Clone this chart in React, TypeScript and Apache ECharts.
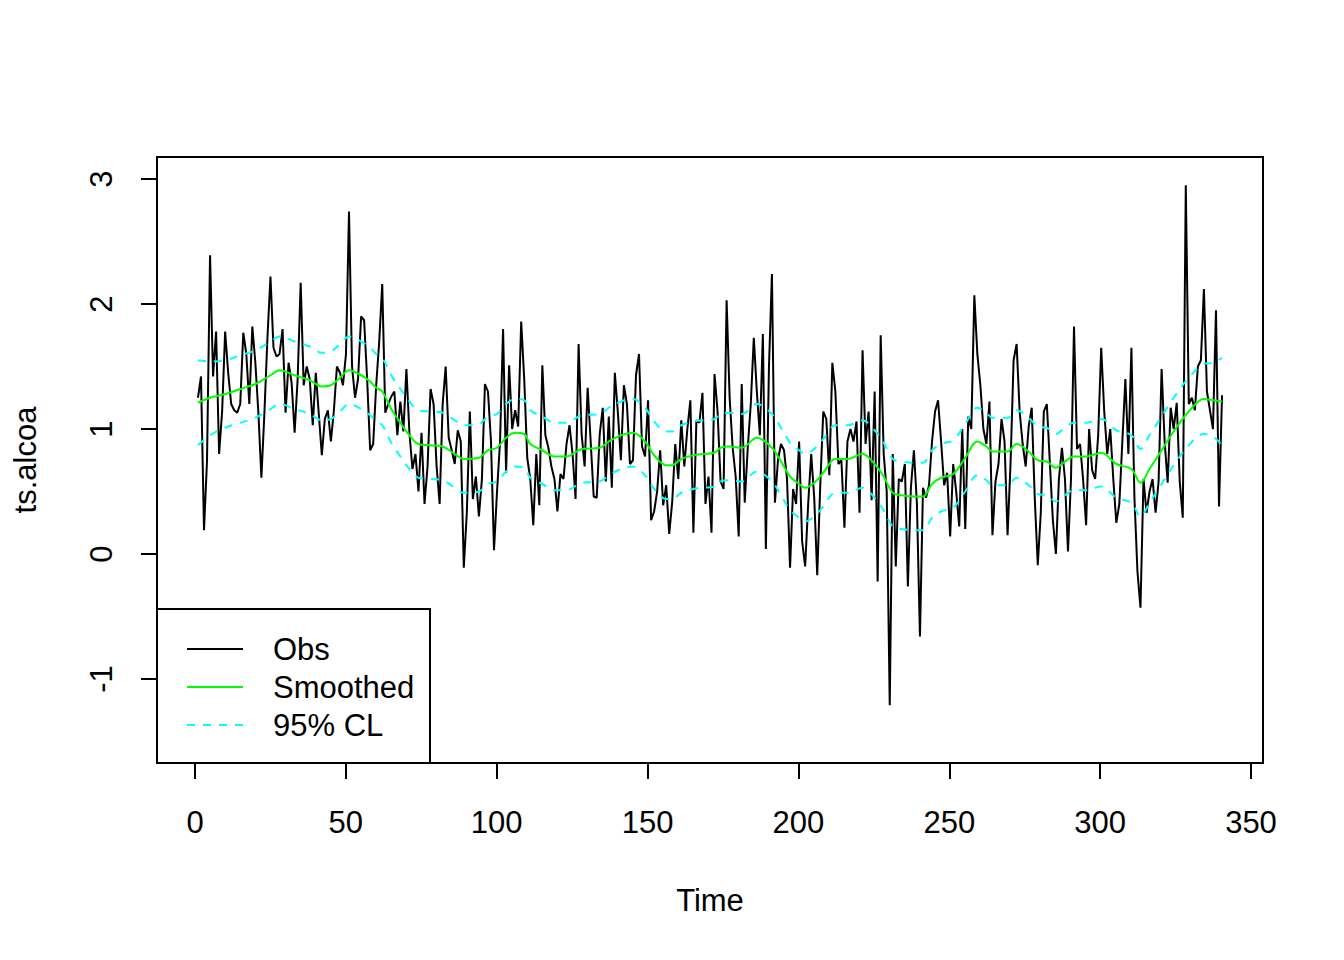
import React, { useEffect, useRef } from "react";
import * as echarts from "echarts";

// Observed series ts.alcoa, t = 1..340
const OBS = [
  1.25, 1.42, 0.19, 0.75, 2.39, 1.42, 1.78, 0.80, 1.14, 1.78,
  1.45, 1.20, 1.15, 1.13, 1.20, 1.77, 1.60, 1.20, 1.82, 1.53,
  1.13, 0.61, 1.13, 1.73, 2.22, 1.65, 1.58, 1.60, 1.80, 1.13,
  1.53, 1.37, 0.97, 1.40, 2.17, 1.35, 1.50, 1.40, 1.03, 1.45,
  1.12, 0.79, 1.08, 1.15, 0.90, 1.15, 1.50, 1.45, 1.35, 1.60,
  2.74, 1.50, 1.25, 1.40, 1.90, 1.87, 1.40, 0.83, 0.88, 1.35,
  1.70, 2.16, 1.13, 1.20, 1.26, 1.30, 0.95, 1.22, 0.98, 1.48,
  0.97, 0.68, 0.80, 0.50, 0.97, 0.40, 0.70, 1.32, 1.20, 0.70,
  0.40, 1.20, 1.50, 0.93, 0.83, 0.72, 0.99, 0.90, -0.11, 0.33,
  1.14, 0.44, 0.62, 0.30, 0.60, 1.36, 1.30, 0.90, 0.03, 0.50,
  0.90, 1.80, 0.65, 1.51, 1.00, 1.15, 1.02, 1.86, 1.40, 0.77,
  0.60, 0.23, 0.80, 0.39, 1.51, 0.95, 0.85, 0.70, 0.60, 0.34,
  0.64, 0.60, 0.88, 1.03, 0.80, 0.44, 1.68, 0.96, 0.70, 1.33,
  0.90, 0.46, 0.45, 0.96, 1.17, 0.58, 1.10, 0.53, 1.45, 1.13,
  0.75, 1.35, 1.20, 0.72, 0.75, 1.43, 1.60, 0.86, 0.78, 1.23,
  0.27, 0.34, 0.50, 0.83, 0.39, 0.55, 0.16, 0.42, 0.88, 0.60,
  1.07, 0.70, 1.00, 1.23, 0.17, 1.07, 1.05, 1.29, 0.40, 0.62,
  0.17, 1.44, 1.14, 0.58, 0.52, 2.03, 1.25, 0.85, 0.62, 0.14,
  1.36, 0.41, 0.85, 1.20, 1.73, 1.30, 0.95, 1.76, 0.04, 1.48,
  2.24, 0.41, 0.75, 0.88, 0.83, 0.60, -0.11, 0.52, 0.40, 0.90,
  0.10, -0.10, 0.40, 0.80, 0.45, -0.17, 0.55, 1.14, 1.08, 0.63,
  1.53, 1.30, 0.72, 0.75, 0.21, 0.90, 1.00, 0.90, 1.06, 0.33,
  1.63, 0.88, 1.14, 0.43, 1.30, -0.22, 1.75, 0.80, 0.50, -1.21,
  0.80, -0.10, 0.60, 0.58, 0.72, -0.26, 0.53, 0.83, 0.40, -0.66,
  0.53, 0.45, 0.55, 0.90, 1.14, 1.23, 0.90, 0.55, 0.65, 0.14,
  0.72, 0.50, 0.22, 1.00, 0.20, 1.10, 1.00, 2.07, 1.60, 1.35,
  1.00, 0.88, 1.22, 0.15, 0.58, 0.72, 1.08, 0.90, 0.15, 0.73,
  1.55, 1.68, 1.14, 0.88, 0.70, 1.02, 1.17, 0.45, -0.09, 0.33,
  1.14, 1.20, 0.73, 0.27, 0.00, 0.60, 0.85, 0.60, 0.02, 0.60,
  1.82, 0.84, 0.88, 0.60, 0.23, 1.00, 0.67, 0.60, 0.95, 1.65,
  1.14, 0.80, 1.00, 0.60, 0.25, 0.40, 0.90, 1.40, 0.80, 1.65,
  0.45, -0.14, -0.43, 0.60, 0.33, 0.50, 0.60, 0.33, 0.58, 1.48,
  0.90, 0.57, 1.17, 1.00, 1.21, 0.58, 0.29, 2.95, 1.20, 1.25,
  1.15, 1.50, 1.55, 2.12, 1.30, 1.15, 1.00, 1.95, 0.38, 1.27,
];

// Time points at which the smoothed curve and its 95% limits were read
const SM_T = [
  1, 5, 10, 15, 20, 25, 28, 33, 38, 42, 45, 48, 51, 55, 58, 60, 62, 65, 68, 71,
  74, 78, 82, 86, 89, 94, 97, 100, 103, 106, 109, 111, 115, 119, 123, 128, 134, 137, 141, 145,
  149, 152, 156, 158, 161, 165, 168, 172, 174, 177, 181, 186, 191, 194, 197, 200, 202, 205, 208, 212,
  216, 221, 225, 228, 231, 234, 238, 241, 244, 247, 251, 255, 259, 262, 264, 269, 272, 276, 279, 282,
  285, 288, 291, 295, 300, 305, 310, 313, 316, 320, 324, 329, 334, 337, 340,
];
const SMOOTHED = [
  1.21, 1.25, 1.28, 1.32, 1.36, 1.43, 1.47, 1.43, 1.39, 1.34, 1.35, 1.41, 1.47, 1.43, 1.38, 1.33, 1.30, 1.16, 1.05, 0.95,
  0.88, 0.87, 0.86, 0.80, 0.76, 0.77, 0.83, 0.85, 0.93, 0.97, 0.96, 0.88, 0.83, 0.78, 0.78, 0.84, 0.85, 0.90, 0.95, 0.97,
  0.90, 0.79, 0.71, 0.71, 0.76, 0.79, 0.80, 0.81, 0.85, 0.86, 0.85, 0.93, 0.85, 0.74, 0.62, 0.56, 0.53, 0.57, 0.65, 0.76,
  0.76, 0.80, 0.72, 0.62, 0.49, 0.47, 0.46, 0.46, 0.56, 0.61, 0.64, 0.77, 0.90, 0.86, 0.82, 0.82, 0.88, 0.82, 0.75, 0.74,
  0.69, 0.74, 0.78, 0.78, 0.81, 0.72, 0.68, 0.57, 0.68, 0.83, 0.98, 1.14, 1.24, 1.23, 1.22,
];
const UPPER = [
  1.55, 1.54, 1.55, 1.59, 1.63, 1.70, 1.74, 1.70, 1.66, 1.61, 1.62, 1.68, 1.74, 1.70, 1.65, 1.60, 1.57, 1.43, 1.32, 1.22,
  1.15, 1.14, 1.13, 1.07, 1.03, 1.04, 1.10, 1.12, 1.20, 1.24, 1.23, 1.15, 1.10, 1.05, 1.05, 1.11, 1.12, 1.17, 1.22, 1.24,
  1.17, 1.06, 0.98, 0.98, 1.03, 1.06, 1.07, 1.08, 1.12, 1.13, 1.12, 1.20, 1.12, 1.01, 0.89, 0.83, 0.80, 0.84, 0.92, 1.03,
  1.03, 1.07, 0.99, 0.89, 0.76, 0.74, 0.73, 0.73, 0.83, 0.88, 0.91, 1.04, 1.17, 1.13, 1.09, 1.09, 1.15, 1.09, 1.02, 1.01,
  0.96, 1.01, 1.05, 1.05, 1.08, 0.99, 0.95, 0.84, 0.95, 1.10, 1.25, 1.41, 1.52, 1.53, 1.57,
];
const LOWER = [
  0.87, 0.95, 1.01, 1.05, 1.09, 1.16, 1.20, 1.16, 1.12, 1.07, 1.08, 1.14, 1.20, 1.16, 1.11, 1.06, 1.03, 0.89, 0.78, 0.68,
  0.61, 0.60, 0.59, 0.53, 0.49, 0.50, 0.56, 0.58, 0.66, 0.70, 0.69, 0.61, 0.56, 0.51, 0.51, 0.57, 0.58, 0.63, 0.68, 0.70,
  0.63, 0.52, 0.44, 0.44, 0.49, 0.52, 0.53, 0.54, 0.58, 0.59, 0.58, 0.66, 0.58, 0.47, 0.35, 0.29, 0.26, 0.30, 0.38, 0.49,
  0.49, 0.53, 0.45, 0.35, 0.22, 0.20, 0.19, 0.19, 0.29, 0.34, 0.37, 0.50, 0.63, 0.59, 0.55, 0.55, 0.61, 0.55, 0.48, 0.47,
  0.42, 0.47, 0.51, 0.51, 0.54, 0.45, 0.41, 0.30, 0.41, 0.56, 0.71, 0.87, 0.96, 0.94, 0.87,
];

const X_MIN = -12.56;
const X_MAX = 353.56;
const Y_MIN = -1.672;
const Y_MAX = 3.176;
const LEGEND_LABELS = ["Obs", "Smoothed", "95% CL"];
const X_TITLE = "Time";
const Y_TITLE = "ts.alcoa";

const FONT = "'Liberation Sans', Arial, Helvetica, sans-serif";

export default function App() {
  const ref = useRef<HTMLDivElement>(null);

  useEffect(() => {
    document.body.style.margin = "0";
    const chart = echarts.init(ref.current as HTMLDivElement, null, { renderer: "svg" });
    const obsData = OBS.map((v, i) => [i + 1, v]);
    const pair = (arr: number[]) => SM_T.map((t, i) => [t, arr[i]]);

    const legendLine = (y: number, color: string, dash?: number[]) => ({
      type: "line",
      z: 101,
      shape: { x1: 187, y1: y, x2: 243, y2: y },
      style: { stroke: color, lineWidth: 2, lineDash: dash },
    });
    const legendText = (y: number, text: string) => ({
      type: "text",
      z: 101,
      x: 273,
      y,
      style: { text, fontSize: 31, fontFamily: FONT, fill: "#000", align: "left", verticalAlign: "middle" },
    });

    chart.setOption({
      animation: false,
      backgroundColor: "#ffffff",
      grid: [
        { left: 157, top: 157, width: 1106, height: 606, show: true, borderColor: "#000", borderWidth: 2, backgroundColor: "transparent" },
        { left: 195, top: 762, width: 1056, height: 1 },
        { left: 157, top: 179, width: 1, height: 500 },
      ],
      xAxis: [
        { type: "value", gridIndex: 0, min: X_MIN, max: X_MAX, show: false },
        {
          type: "value", gridIndex: 1, min: 0, max: 350, interval: 50, position: "bottom",
          axisLine: { show: true, lineStyle: { color: "#000", width: 2 } },
          axisTick: { show: true, length: 16, lineStyle: { color: "#000", width: 2 } },
          axisLabel: { margin: 44, fontSize: 31, color: "#000", fontFamily: FONT },
          splitLine: { show: false },
        },
        { type: "value", gridIndex: 2, show: false },
      ],
      yAxis: [
        { type: "value", gridIndex: 0, min: Y_MIN, max: Y_MAX, show: false },
        { type: "value", gridIndex: 1, show: false },
        {
          type: "value", gridIndex: 2, min: -1, max: 3, interval: 1, position: "left",
          axisLine: { show: true, lineStyle: { color: "#000", width: 2 } },
          axisTick: { show: true, length: 16, lineStyle: { color: "#000", width: 2 } },
          axisLabel: { margin: 40, rotate: 90, fontSize: 31, color: "#000", fontFamily: FONT },
          splitLine: { show: false },
        },
      ],
      series: [
        {
          name: "Obs", type: "line", xAxisIndex: 0, yAxisIndex: 0, data: obsData,
          symbol: "none", silent: true, lineStyle: { color: "#000", width: 2 },
        },
        {
          name: "Smoothed", type: "line", xAxisIndex: 0, yAxisIndex: 0, data: pair(SMOOTHED),
          symbol: "none", silent: true, smooth: 0.35, lineStyle: { color: "#00ff00", width: 2 },
        },
        {
          name: "Upper", type: "line", xAxisIndex: 0, yAxisIndex: 0, data: pair(UPPER),
          symbol: "none", silent: true, smooth: 0.35, lineStyle: { color: "#00ffff", width: 2, type: [8, 8] },
        },
        {
          name: "Lower", type: "line", xAxisIndex: 0, yAxisIndex: 0, data: pair(LOWER),
          symbol: "none", silent: true, smooth: 0.35, lineStyle: { color: "#00ffff", width: 2, type: [8, 8] },
        },
      ],
      graphic: [
        {
          type: "rect", z: 100,
          shape: { x: 157, y: 609, width: 273, height: 154 },
          style: { fill: "#fff", stroke: "#000", lineWidth: 2 },
        },
        legendLine(649, "#000"),
        legendLine(687, "#00ff00"),
        legendLine(725, "#00ffff", [8, 8]),
        legendText(649, LEGEND_LABELS[0]),
        legendText(687, LEGEND_LABELS[1]),
        legendText(725, LEGEND_LABELS[2]),
        {
          type: "text", z: 101, x: 710, y: 900,
          style: { text: X_TITLE, fontSize: 31, fontFamily: FONT, fill: "#000", align: "center", verticalAlign: "middle" },
        },
        {
          type: "text", z: 101, x: 25, y: 460, rotation: Math.PI / 2,
          style: { text: Y_TITLE, fontSize: 31, fontFamily: FONT, fill: "#000", align: "center", verticalAlign: "middle" },
        },
      ],
    });

    return () => {
      chart.dispose();
    };
  }, []);

  return <div ref={ref} style={{ width: 1344, height: 960 }} />;
}
